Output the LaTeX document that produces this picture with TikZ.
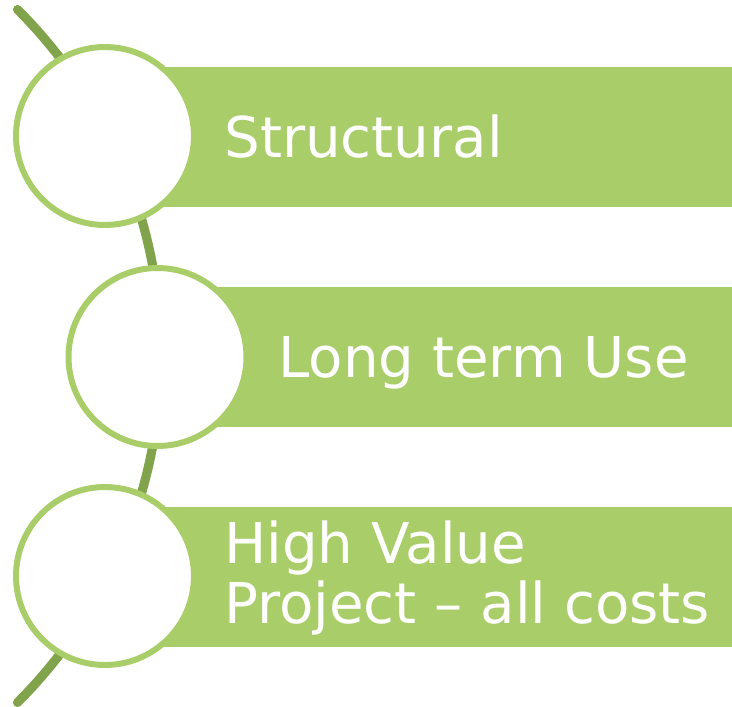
\documentclass[tikz,border=0pt]{standalone}
\usepackage{fontspec}
\setmainfont{DejaVu Sans}
\usetikzlibrary{calc}
\definecolor{barGreen}{RGB}{169,205,104}
\definecolor{arcGreen}{RGB}{128,163,76}

\begin{document}
\begin{tikzpicture}[x=0.02cm,y=-0.02cm,
		bar/.style={fill=barGreen,draw=none,anchor=west,inner sep=0pt,minimum height=2.8cm},
		ring/.style={circle,draw=barGreen,fill=white,line width=3.4pt,inner sep=0pt,minimum size=3.56cm},
		label/.style={text=white,inner sep=0pt,font=\fontsize{32}{34}\selectfont}]
			\useasboundingbox (0,0) rectangle (732,706);
			% curved spine behind the circles
			\coordinate (top) at (17.5,9.5);
			\draw[arcGreen,line width=5.2pt,line cap=round] (top) arc[start angle=-45,end angle=45,radius=490];
			
			\node[bar,minimum width=12.54cm] (B1) at (105,137) {};
			\node[bar,minimum width=11.5cm] (B2) at (157,357) {};
			\node[bar,minimum width=12.54cm] (B3) at (105,577) {};
			
			\node[ring] (C1) at (105,136) {};
			\node[ring] (C2) at (157.5,357) {};
			\node[ring] (C3) at (105,576) {};
			
			\node[label,anchor=base west] (T1) at (224,157) {Structural};
			\node[label,anchor=base west] (T2) at (278,377) {Long term Use};
			\node[label,anchor=west,align=left] (T3) at (224,578) {High Value\\Project -- all costs};
		\end{tikzpicture}
\end{document}
